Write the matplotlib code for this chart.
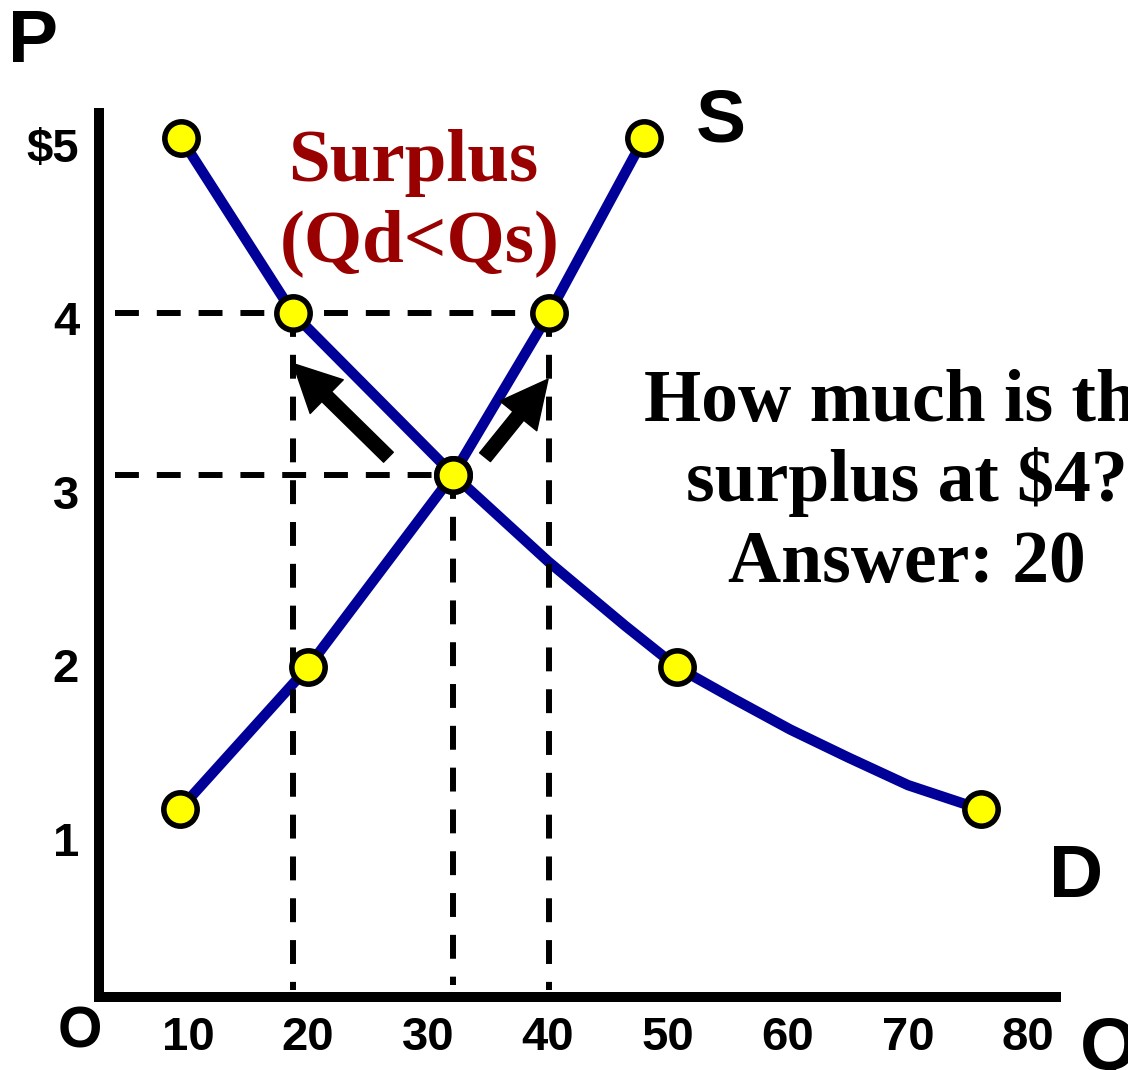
import matplotlib
matplotlib.use("Agg")
import matplotlib.pyplot as plt

plt.rcParams["font.family"] = ["Liberation Sans", "DejaVu Sans"]
plt.rcParams["font.weight"] = "bold"

# points on the curves (Q, P)
supply_q = [9.3, 20.0, 32.1, 40.1, 48.0]
supply_p = [1.17, 1.99, 3.10, 4.03, 5.04]
demand_q = [9.4, 18.75, 32.1, 50.75, 76.1]
demand_p = [5.04, 4.03, 3.10, 1.99, 1.17]

# demand line is a bit bowed, so it has some extra vertices
demand_line_q = [9.4, 18.75, 32.1, 40.0, 46.4, 50.75, 55.4, 60.2, 65.0, 70.0, 76.1]
demand_line_p = [5.04, 4.03, 3.10, 2.60, 2.23, 1.99, 1.81, 1.63, 1.47, 1.31, 1.17]

q_ticks = [10, 20, 30, 40, 50, 60, 70, 80]
q_labels = ["10", "20", "30", "40", "50", "60", "70", "80"]
p_ticks = [1, 2, 3, 4, 5]
p_labels = ["1", "2", "3", "4", "$5"]

# the surplus at $4 and the equilibrium
high_price = 4.03
eq_price = 3.10
qd_high = 18.75
qs_high = 40.1
eq_q = 32.1

W, H = 1128, 1070


def fx(x):
    return x / W


def fy(y):
    return 1 - y / H


fig = plt.figure(figsize=(W / 100, H / 100), dpi=100)
ax = fig.add_axes([fx(98.5), fy(997), (1056 - 98.5) / W, (997 - 113) / H])
ax.set_xlim(2.54, 82.33)
ax.set_ylim(0.089, 5.184)

for side in ["top", "right"]:
    ax.spines[side].set_visible(False)
for side in ["left", "bottom"]:
    ax.spines[side].set_linewidth(7.2)
    ax.spines[side].set_capstyle("projecting")

ax.set_xticks(q_ticks, q_labels)
ax.set_yticks(p_ticks, p_labels)
ax.tick_params(length=0, pad=14, labelsize=34)

blue = "#000099"
ax.plot(supply_q, supply_p, color=blue, lw=7.5, zorder=2, solid_joinstyle="round")
ax.plot(demand_line_q, demand_line_p, color=blue, lw=7.5, zorder=2, solid_joinstyle="round")

# dashed guide lines
dash = dict(color="black", lw=4.3, dashes=(4, 3), zorder=3)
ax.plot([3.92, qs_high], [high_price, high_price], **dash)
ax.plot([3.92, eq_q], [eq_price, eq_price], **dash)
ax.plot([qd_high, qd_high], [high_price, 0.13], **dash)
ax.plot([eq_q, eq_q], [eq_price, 0.16], **dash)
ax.plot([qs_high, qs_high], [high_price, 0.13], **dash)

# arrows away from equilibrium
arrow = dict(arrowstyle="simple,head_length=1.7,head_width=1.7,tail_width=0.5",
             color="black", shrinkA=0, shrinkB=0, mutation_scale=20)
ax.annotate("", xy=(18.75, 3.74), xytext=(26.7, 3.20), arrowprops=arrow, zorder=4)
ax.annotate("", xy=(40.0, 3.65), xytext=(34.75, 3.20), arrowprops=arrow, zorder=4)

dot = dict(marker="o", ls="none", ms=24, mfc="#FFFF00", mec="black", mew=4,
           zorder=5, clip_on=False)
ax.plot(supply_q, supply_p, **dot)
ax.plot(demand_q, demand_p, **dot)

# axis letters
sans = dict(family=["Liberation Sans", "DejaVu Sans"], weight="bold", va="baseline")
fig.text(fx(8), fy(62), "P", fontsize=54, ha="left", **sans)
fig.text(fx(721), fy(141), "S", fontsize=54, ha="center", **sans)
fig.text(fx(1076), fy(897), "D", fontsize=54, ha="center", **sans)
fig.text(fx(80), fy(1047), "O", fontsize=41, ha="center", **sans)
fig.text(fx(1080), fy(1069), "Q", fontsize=54, ha="left", **sans)

serif = dict(family=["Liberation Serif", "DejaVu Serif"], weight="bold", va="baseline",
             ha="center")
fig.text(fx(413), fy(181), "Surplus", fontsize=54, color="#990000", **serif)
fig.text(fx(420), fy(261), "(Qd<Qs)", fontsize=54, color="#990000", **serif)

fig.text(fx(907), fy(421), "How much is the", fontsize=53, color="black", **serif)
fig.text(fx(907), fy(501), "surplus at $4?", fontsize=53, color="black", **serif)
fig.text(fx(907), fy(582), "Answer: 20", fontsize=53, color="black", **serif)

fig.savefig("out.png", dpi=100)
